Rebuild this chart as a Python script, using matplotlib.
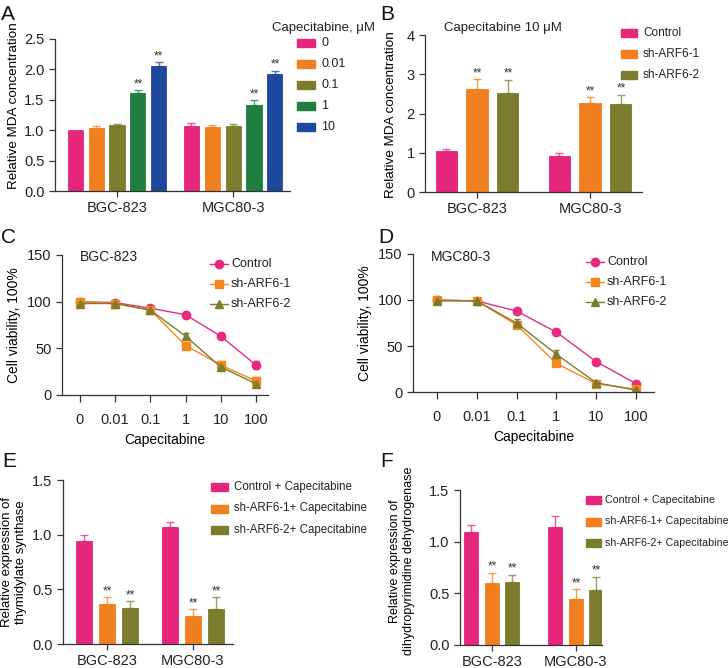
import numpy as np
import matplotlib
matplotlib.use('Agg')
import matplotlib.pyplot as plt
from matplotlib.lines import Line2D

plt.rcParams['font.family'] = ['Liberation Sans', 'DejaVu Sans']

W, H = 728, 668

# ---------------- data ----------------
cells = ['BGC-823', 'MGC80-3']

# A: MDA vs capecitabine dose
doses_a = ['0', '0.01', '0.1', '1', '10']
mda_a = [[1.00, 1.04, 1.09, 1.61, 2.06],
         [1.07, 1.06, 1.07, 1.42, 1.92]]
mda_a_err = [[0.00, 0.03, 0.02, 0.05, 0.06],
             [0.05, 0.03, 0.03, 0.07, 0.06]]
stars_a = [False, False, False, True, True]

# B: MDA at capecitabine 10 uM
groups_b = ['Control', 'sh-ARF6-1', 'sh-ARF6-2']
mda_b = [[1.04, 2.63, 2.53],
         [0.91, 2.26, 2.24]]
mda_b_err = [[0.06, 0.24, 0.33],
             [0.09, 0.16, 0.24]]

# C/D: viability curves
conc = ['0', '0.01', '0.1', '1', '10', '100']
via_c = {'Control':   [100, 99, 93, 86, 63, 32],
         'sh-ARF6-1': [100, 98, 91, 53, 32, 15],
         'sh-ARF6-2': [98, 98, 91, 63, 30, 12]}
via_c_err = {'Control':   [1, 1, 1, 2, 3, 4],
             'sh-ARF6-1': [1, 1, 1, 3, 4, 4],
             'sh-ARF6-2': [1, 1, 1, 3, 2, 2]}
via_d = {'Control':   [100, 99, 88, 65, 33, 9],
         'sh-ARF6-1': [100, 99, 73, 31, 9, 3],
         'sh-ARF6-2': [99, 99, 75, 41, 10, 2]}
via_d_err = {'Control':   [1, 1, 1, 1, 1, 1],
             'sh-ARF6-1': [1, 1, 2, 2, 1, 1],
             'sh-ARF6-2': [1, 1, 4, 5, 1, 1]}

# E/F: expression
groups_ef = ['Control + Capecitabine', 'sh-ARF6-1+ Capecitabine', 'sh-ARF6-2+ Capecitabine']
ts_e = [[0.94, 0.37, 0.33],
        [1.07, 0.26, 0.32]]
ts_e_err = [[0.06, 0.06, 0.06],
            [0.05, 0.06, 0.11]]
dpd_f = [[1.09, 0.60, 0.61],
         [1.14, 0.45, 0.53]]
dpd_f_err = [[0.07, 0.10, 0.07],
             [0.11, 0.09, 0.13]]

pink = '#e6267a'
orange = '#f0801f'
olive = '#7c7c2e'
green = '#1f7f40'
blue = '#1d489e'
colors_a = [pink, orange, olive, green, blue]
colors_3 = [pink, orange, olive]
line_cols = {'Control': '#e8297d', 'sh-ARF6-1': '#f5871f', 'sh-ARF6-2': '#7d7d2c'}
line_mk = {'Control': 'o', 'sh-ARF6-1': 's', 'sh-ARF6-2': '^'}

fig = plt.figure(figsize=(W / 100, H / 100), dpi=100)


def px_axes(l, t, r, b):
    return fig.add_axes([l / W, 1 - b / H, (r - l) / W, (b - t) / H])


def style(ax, fs=10.5):
    for s in ['top', 'right']:
        ax.spines[s].set_visible(False)
    for s in ['left', 'bottom']:
        ax.spines[s].set_color('#333333')
        ax.spines[s].set_linewidth(0.9)
    ax.tick_params(axis='both', colors='#333333', labelcolor='#222222',
                   labelsize=fs, length=4, width=0.9)


def bars(ax, vals, errs, cols, width, step, stars=None):
    n = len(cols)
    for g in range(len(vals)):
        for i in range(n):
            x = g + (i - (n - 1) / 2) * step
            v, e = vals[g][i], errs[g][i]
            ax.bar(x, v, width=width, color=cols[i], edgecolor=cols[i], linewidth=0.6)
            if e > 0:
                ax.errorbar(x, v, yerr=[[0], [e]], color=cols[i], capsize=3,
                            elinewidth=1.0, capthick=1.0, alpha=0.75)
            show = stars[i] if stars is not None else i > 0
            if show:
                ax.text(x, v + e, '**', ha='center', va='bottom', fontsize=8.5,
                        color='#333333')
    ax.set_xticks(range(len(vals)))
    ax.set_xticklabels(cells)
    ax.tick_params(axis='x', length=5)


def square_legend(x, y0, dy, labels, cols, fs=8.5, w=17, h=10, gap=6):
    for i, (lab, c) in enumerate(zip(labels, cols)):
        yc = y0 + i * dy
        fig.patches.append(plt.Rectangle((x / W, 1 - (yc + h / 2) / H), w / W, h / H,
                                         transform=fig.transFigure, color=c))
        fig.text((x + w + gap) / W, 1 - yc / H, lab, ha='left', va='center',
                 fontsize=fs, color='#222222')


def line_legend(x, y0, dy, fs=9):
    for i, k in enumerate(groups_b):
        yc = 1 - (y0 + i * dy) / H
        fig.add_artist(Line2D([x / W, (x + 9) / W, (x + 18) / W], [yc, yc, yc],
                              color=line_cols[k], marker=line_mk[k], markevery=[1],
                              markersize=6, lw=1.0, transform=fig.transFigure))
        fig.text((x + 21) / W, yc, k, ha='left', va='center', fontsize=fs, color='#222222')


def panel_letter(x, y, s):
    fig.text(x / W, 1 - y / H, s, fontsize=15, ha='left', va='top', color='#111111')


# ---------------- A ----------------
axA = px_axes(55, 39, 290, 191)
bars(axA, mda_a, mda_a_err, colors_a, 0.13, 0.18, stars=stars_a)
axA.set_xlim(-0.534, 1.49)
axA.set_ylim(0, 2.5)
axA.set_yticks([0, 0.5, 1.0, 1.5, 2.0, 2.5])
axA.set_yticklabels(['0.0', '0.5', '1.0', '1.5', '2.0', '2.5'])
axA.set_ylabel('Relative MDA concentration', fontsize=9.7)
axA.yaxis.set_label_coords(-0.15, 0.56)
style(axA)
fig.text(272 / W, 1 - 28 / H, 'Capecitabine, μM', fontsize=9.5, va='center', color='#222222')
square_legend(297, 43, 21, doses_a, colors_a, w=18, h=8, fs=9)
panel_letter(1, 5, 'A')

# ---------------- B ----------------
axB = px_axes(425, 35, 642, 192)
bars(axB, mda_b, mda_b_err, colors_3, 0.186, 0.274)
axB.set_xlim(-0.46, 1.46)
axB.set_ylim(0, 4)
axB.set_yticks([0, 1, 2, 3, 4])
axB.set_ylabel('Relative MDA concentration', fontsize=9.7)
axB.yaxis.set_label_coords(-0.13, 0.49)
style(axB)
fig.text(444 / W, 1 - 28 / H, 'Capecitabine 10 μM', fontsize=9.5, va='center', color='#222222')
square_legend(621, 33, 21, groups_b, colors_3, w=16, h=8, fs=8.5)
panel_letter(380, 5, 'B')


# ---------------- C / D ----------------
def viability(ax, data, errs, label, lx, ly):
    xs = np.arange(len(conc))
    for k in groups_b:
        ax.errorbar(xs, data[k], yerr=errs[k], color=line_cols[k], marker=line_mk[k],
                    markersize=6, lw=1.0, capsize=2, elinewidth=0.8)
    ax.set_xticks(xs)
    ax.set_xticklabels(conc)
    ax.set_ylim(0, 150)
    ax.set_yticks([0, 50, 100, 150])
    ax.set_xlabel('Capecitabine', fontsize=10)
    ax.set_ylabel('Cell viability, 100%', fontsize=10)
    style(ax, fs=10.5)
    ax.tick_params(axis='x', length=5, pad=8)
    fig.text(lx / W, 1 - ly / H, label, fontsize=10, va='center', color='#222222')


axC = px_axes(62, 255, 268, 395)
viability(axC, via_c, via_c_err, 'BGC-823', 80, 257)
axC.set_xlim(-0.51, 5.34)
line_legend(210, 264, 20)
panel_letter(1, 228, 'C')

axD = px_axes(413, 254, 654, 392)
viability(axD, via_d, via_d_err, 'MGC80-3', 431, 257)
axD.set_xlim(-0.60, 5.45)
line_legend(586, 262, 20)
panel_letter(378, 228, 'D')

# ---------------- E ----------------
axE = px_axes(63, 480, 233, 644)
bars(axE, ts_e, ts_e_err, colors_3, 0.186, 0.267)
axE.set_xlim(-0.51, 1.465)
axE.set_ylim(0, 1.5)
axE.set_yticks([0, 0.5, 1.0, 1.5])
axE.set_yticklabels(['0.0', '0.5', '1.0', '1.5'])
axE.set_ylabel('Relative expression of\nthymidylate synthase', fontsize=9.5)
style(axE)
square_legend(211, 487, 21.5, groups_ef, colors_3, w=17, h=8, fs=8.3)
panel_letter(2, 452, 'E')

# ---------------- F ----------------
axF = px_axes(460, 490, 602, 645)
bars(axF, dpd_f, dpd_f_err, colors_3, 0.167, 0.244)
axF.set_xlim(-0.38, 1.31)
axF.set_ylim(0, 1.5)
axF.set_yticks([0, 0.5, 1.0, 1.5])
axF.set_yticklabels(['0.0', '0.5', '1.0', '1.5'])
axF.set_ylabel('Relative expression of\ndihydropyrimidine dehydrogenase', fontsize=9)
axF.yaxis.set_label_coords(-0.32, 0.54)
style(axF)
square_legend(586, 500, 21.5, groups_ef, colors_3, w=15, h=8, fs=7.7, gap=4)
panel_letter(380, 452, 'F')

fig.savefig('out.png', dpi=100)
